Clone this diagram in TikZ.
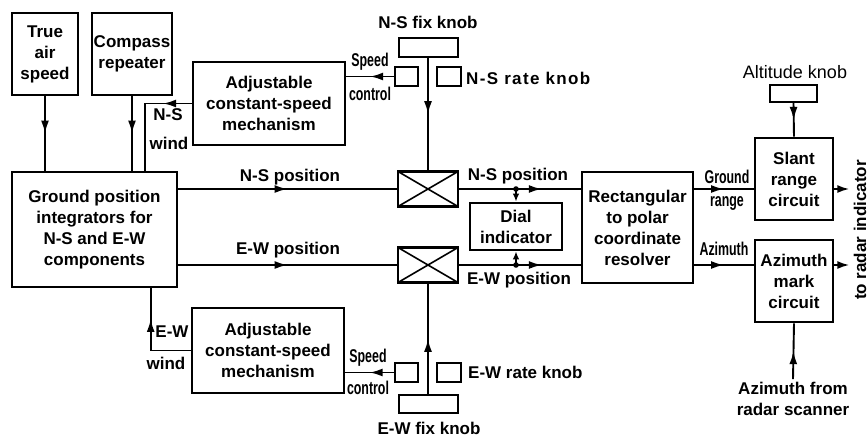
\documentclass[tikz,border=0pt]{standalone}
\usepackage{fontspec}
\setmainfont{Liberation Sans}
\newfontfamily\condfont[FakeStretch=0.67]{Liberation Sans}
\usetikzlibrary{arrows.meta,decorations.markings,calc}
\begin{document}
\begin{tikzpicture}[x=1pt,y=-1pt,
 bx/.style={draw,line width=2.6pt,align=center,inner sep=0pt,font=\fontsize{17}{21}\selectfont\bfseries},
 knob/.style={draw,line width=2pt,inner sep=0pt},
 xbox/.style={draw,line width=2.4pt,inner sep=0pt,minimum width=60pt,minimum height=35pt,
   path picture={\draw[line width=1.6pt] (path picture bounding box.north west)--(path picture bounding box.south east)
   (path picture bounding box.north east)--(path picture bounding box.south west);}},
 conn/.style={line width=1.9pt},
 mida/.style={conn,postaction={decorate,decoration={markings,mark=at position #1 with {\arrow{Latex[length=13pt,width=8pt]}}}}},
 mida/.default=0.5,
 lbl/.style={inner sep=0pt,font=\fontsize{17}{21}\selectfont\bfseries,align=center},
 clbl/.style={inner sep=0pt,font=\fontsize{18.5}{20}\selectfont\condfont\bfseries},
]
\useasboundingbox (0,0) rectangle (868,437);

% boxes
\node[bx,minimum width=66pt,minimum height=82pt] (tas) at (45,54) {True\\air\\speed};
\node[bx,minimum width=80pt,minimum height=82pt] (comp) at (132,54) {Compass\\repeater};
\node[bx,minimum width=165pt,minimum height=115pt] (gp) at (94.5,229.5) {Ground position\\integrators for\\N-S and E-W\\components};
\node[bx,minimum width=152pt,minimum height=83pt] (asmN) at (269,103.5) {Adjustable\\constant-speed\\mechanism};
\node[bx,minimum width=152pt,minimum height=85pt] (asmE) at (268,350.5) {Adjustable\\constant-speed\\mechanism};
\node[knob,minimum width=59pt,minimum height=19pt] (nsfix) at (428,47.5) {};
\node[knob,minimum width=23pt,minimum height=19pt] (nsspd) at (406.5,76.5) {};
\node[knob,minimum width=24pt,minimum height=19pt] (nsrate) at (449,76.5) {};
\node[xbox] (nsx) at (428,189) {};
\node[xbox] (ewx) at (428,265) {};
\node[knob,minimum width=59pt,minimum height=18pt] (ewfix) at (428,404) {};
\node[knob,minimum width=23pt,minimum height=19pt] (ewspd) at (406.5,372.5) {};
\node[knob,minimum width=24pt,minimum height=19pt] (ewrate) at (449,372.5) {};
\node[bx,minimum width=92pt,minimum height=47pt] (dial) at (516,226.5) {Dial\\indicator};
\node[bx,minimum width=111pt,minimum height=111pt] (res) at (637.5,227.5) {Rectangular\\to polar\\coordinate\\resolver};
\node[knob,minimum width=47pt,minimum height=17pt] (alt) at (793.5,93.5) {};
\node[bx,minimum width=78pt,minimum height=82pt] (slant) at (794,179) {Slant\\range\\circuit};
\node[bx,minimum width=78pt,minimum height=82pt] (azm) at (794,281) {Azimuth\\mark\\circuit};

% labels
\node[lbl] (nsfixl) at (428,22) {N-S fix knob};
\node[lbl,anchor=west] (nsratel) at (466,78) {\addfontfeature{LetterSpace=8}N-S rate knob};
\node[lbl] (ewfixl) at (429,428) {E-W fix knob};
\node[lbl,anchor=west] (ewratel) at (468,372) {E-W rate knob};
\node[lbl,font=\fontsize{18}{21}\selectfont] (altl) at (795,72) {Altitude knob};
\node[lbl] (nsp1) at (290,177) {N-S position};
\node[lbl] (ewp1) at (288,250) {E-W position};
\node[lbl] (nsp2) at (518,176) {N-S position};
\node[lbl] (ewp2) at (519,280) {E-W position};
\node[lbl] (nsw1) at (168,115) {N-S};
\node[lbl] (nsw2) at (169,143) {wind};
\node[lbl] (eww1) at (172,332) {E-W};
\node[lbl] (eww2) at (166,363) {wind};
\node[clbl] (sc1) at (370,62) {Speed};
\node[clbl] (sc2) at (370,94) {control};
\node[clbl] (sc3) at (368,358) {Speed};
\node[clbl] (sc4) at (368,388) {control};
\node[clbl] (gr1) at (727,177) {Ground};
\node[clbl] (gr2) at (727,203) {range};
\node[clbl] (azl) at (724,249) {Azimuth};
\node[lbl,rotate=90] (radl) at (860,230) {to radar indicator};
\node[lbl,inner sep=3pt] (azfrom) at (793,399) {Azimuth from\\radar scanner};

% connectors
\draw[mida] (tas.south) -- (tas.south |- gp.north);
\draw[mida] (comp.south) -- (comp.south |- gp.north);
\coordinate (nsw) at ([xshift=134pt]gp.north west);
\draw[mida=0.25] (asmN.west) -| (nsw);
\coordinate (eww) at ([xshift=140pt]gp.south west);
\draw[mida=0.7] (asmE.west) -| (eww);
\draw[mida] (nsx.west -| gp.east) -- (nsx.west);
\draw[mida] (ewx.west -| gp.east) -- (ewx.west);
\draw[mida] (nsfix.south) -- (nsx.north);
\draw[mida] (ewfix.north) -- (ewx.south);
\draw[mida] (nsspd.west) -- (nsspd.west -| asmN.east);
\draw[mida] (ewspd.west) -- (ewspd.west -| asmE.east);
\draw[mida=0.68] (nsx.east) -- (nsx.east -| res.west);
\draw[mida=0.68] (ewx.east) -- (ewx.east -| res.west);
\coordinate (dn) at (dial.north |- nsx.east);
\coordinate (ds) at (dial.south |- ewx.east);
\fill (dn) circle (2.8pt);
\fill (ds) circle (2.8pt);
\draw[conn,-{Latex[length=8pt,width=6.5pt]}] (dn) -- (dial.north);
\draw[conn,-{Latex[length=8pt,width=6.5pt]}] (ds) -- (dial.south);
\draw[mida] (res.east |- nsx.east) -- (slant.west |- nsx.east);
\draw[mida] (res.east |- ewx.east) -- (azm.west |- ewx.east);
\coordinate (o1) at ($(slant.east |- nsx.east)+(15,0)$);
\coordinate (o2) at ($(azm.east |- ewx.east)+(15,0)$);
\draw[conn,-{Latex[length=12pt,width=8pt]}] (slant.east |- nsx.east) -- (o1);
\draw[conn,-{Latex[length=12pt,width=8pt]}] (azm.east |- ewx.east) -- (o2);
\draw[mida] (alt.south) -- (slant.north);
\draw[mida] (azfrom.north) -- (azm.south);
\end{tikzpicture}
\end{document}
